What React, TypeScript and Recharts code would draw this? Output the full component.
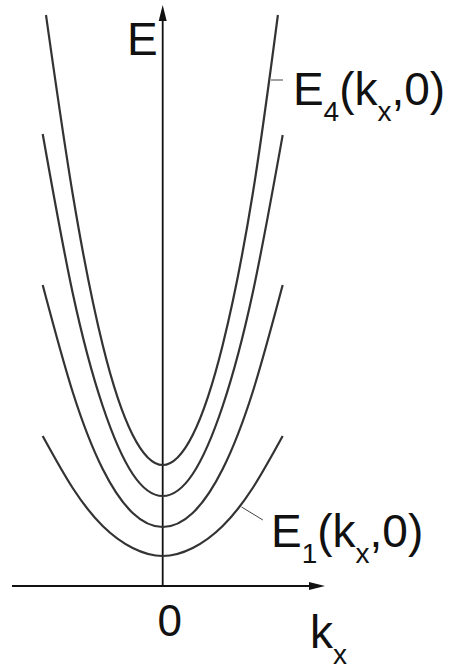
import { LineChart, Line, XAxis, YAxis, ReferenceLine, ReferenceDot } from "recharts";

// subband dispersion E_n(kx, 0), n = 1..4 (arbitrary units)
const kxGrid = [-4, -3, -2, -1, 0, 1, 2, 3, 4];
const kxTop = [-3.89, -3, -2, -1, 0, 1, 2, 3, 3.84];
const band1 = [15.0, 9.8, 6.0, 3.8, 3.0, 3.8, 6.0, 9.8, 15.0];
const band2 = [30.1, 19.4, 11.7, 7.3, 5.9, 7.3, 11.7, 19.4, 30.1];
const band3 = [45.2, 29.3, 18.0, 11.2, 9.0, 11.2, 18.0, 29.3, 45.1];
const band4 = [57.1, 39.2, 24.1, 15.1, 12.1, 15.1, 24.1, 39.2, 57.1];
const xTicks = [0];

const pts = (ks: number[], es: number[]) => ks.map((kx, i) => ({ kx, e: es[i] }));

const bands = [
  { name: "E1", data: pts(kxGrid, band1) },
  { name: "E2", data: pts(kxGrid, band2) },
  { name: "E3", data: pts(kxGrid, band3) },
  { name: "E4", data: pts(kxTop, band4) },
];

const FONT = "'Liberation Sans', Arial, sans-serif";
const INK = "#111";

// axis line with a filled arrow head at its far end
const arrowLine = (dir: "up" | "right") => (p: any) => {
  const { x1, y1, x2, y2 } = p;
  if (dir === "right") {
    const y = y1;
    const xe = Math.max(x1, x2);
    const xs = Math.min(x1, x2);
    return (
      <g>
        <line x1={xs} y1={y} x2={xe - 6} y2={y} stroke={INK} strokeWidth={1.8} />
        <polygon points={`${xe},${y} ${xe - 16},${y - 4} ${xe - 16},${y + 4}`} fill={INK} />
      </g>
    );
  }
  const x = x1;
  const yt = Math.min(y1, y2);
  const yb = Math.max(y1, y2);
  return (
    <g>
      <line x1={x} y1={yb} x2={x} y2={yt + 6} stroke={INK} strokeWidth={1.8} />
      <polygon points={`${x},${yt} ${x - 4},${yt + 16} ${x + 4},${yt + 16}`} fill={INK} />
    </g>
  );
};

// main symbol followed by a subscript, e.g. E_4(k_x,0)
const subLabel = (parts: [string, string][]) => (p: any) => (
  <text x={p.cx} y={p.cy} fontFamily={FONT} fill={INK} fontSize={46}>
    {parts.map(([main, sub], i) => (
      <tspan key={i}>
        <tspan fontSize={46} dy={i === 0 ? 0 : -16}>{main}</tspan>
        {sub && <tspan fontSize={28} dy={16}>{sub}</tspan>}
      </tspan>
    ))}
  </text>
);

const ZeroTick = (p: any) => (
  <text x={p.x + 7} y={p.y + 42} textAnchor="middle" fontFamily={FONT} fontSize={44} fill={INK}>
    {p.payload.value}
  </text>
);

export default function App() {
  return (
    <div style={{ position: "absolute", left: 0, top: 0, width: 451, height: 669, background: "#fff" }}>
      <LineChart width={451} height={669} data={bands[0].data} margin={{ top: 5, right: 126, bottom: 53, left: 12 }}>
        <XAxis
          dataKey="kx"
          type="number"
          domain={[-5.023, 5.41]}
          allowDataOverflow
          ticks={xTicks}
          axisLine={false}
          tickLine={false}
          tick={ZeroTick}
          height={30}
        />
        <YAxis type="number" domain={[0, 58.1]} allowDataOverflow hide />
        <ReferenceLine y={0} shape={arrowLine("right")} ifOverflow="visible" />
        <ReferenceLine x={0} shape={arrowLine("up")} ifOverflow="visible" />
        {bands.map((b) => (
          <Line
            key={b.name}
            data={b.data}
            dataKey="e"
            type="natural"
            stroke="#333"
            strokeWidth={2.2}
            dot={false}
            activeDot={false}
            isAnimationActive={false}
          />
        ))}
        {/* leader lines from the curves to their labels */}
        <ReferenceLine
          segment={[{ x: 3.61, y: 50.6 }, { x: 4.01, y: 50.6 }]}
          stroke="#444"
          strokeWidth={1}
          ifOverflow="visible"
        />
        <ReferenceLine
          segment={[{ x: 2.63, y: 7.9 }, { x: 3.34, y: 6.6 }]}
          stroke="#444"
          strokeWidth={1}
          ifOverflow="visible"
        />
        <ReferenceDot x={-1.19} y={53.1} r={0} ifOverflow="visible" shape={subLabel([["E", ""]])} />
        <ReferenceDot
          x={4.34}
          y={48.1}
          r={0}
          ifOverflow="visible"
          shape={subLabel([["E", "4"], ["(k", "x"], [",0)", ""]])}
        />
        <ReferenceDot
          x={3.61}
          y={3.9}
          r={0}
          ifOverflow="visible"
          shape={subLabel([["E", "1"], ["(k", "x"], [",0)", ""]])}
        />
        <ReferenceDot x={4.91} y={-6.2} r={0} ifOverflow="visible" shape={subLabel([["k", "x"]])} />
      </LineChart>
    </div>
  );
}
